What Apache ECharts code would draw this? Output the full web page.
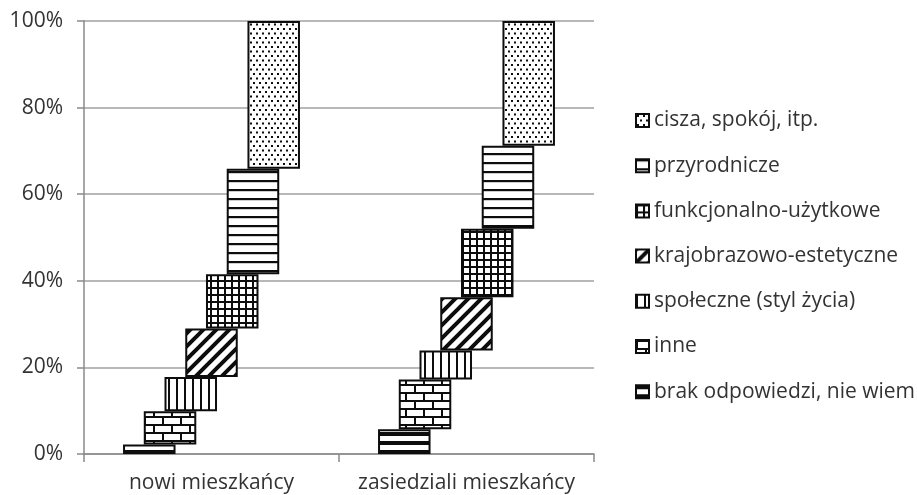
<!DOCTYPE html>
<html>
<head>
<meta charset="utf-8">
<script src="https://cdn.jsdelivr.net/npm/echarts@6/dist/echarts.min.js"></script>
<style>
html,body{margin:0;padding:0;background:#fff;}
#c{width:917px;height:495px;}
</style>
</head>
<body>
<div id="c"></div>
<script>
const categories = ['nowi mieszkańcy', 'zasiedziali mieszkańcy'];
const seriesNames = ['brak odpowiedzi, nie wiem', 'inne', 'społeczne (styl życia)', 'krajobrazowo-estetyczne', 'funkcjonalno-użytkowe', 'przyrodnicze', 'cisza, spokój, itp.'];
const brak = [2.2, 5.7];
const inne = [7.7, 11.5];
const spoleczne = [7.9, 6.7];
const krajobrazowo = [11.2, 12.3];
const funkcjonalno = [12.5, 15.8];
const przyrodnicze = [24.4, 19.2];
const cisza = [34.1, 28.8];
const legendOrder = ['cisza, spokój, itp.', 'przyrodnicze', 'funkcjonalno-użytkowe', 'krajobrazowo-estetyczne', 'społeczne (styl życia)', 'inne', 'brak odpowiedzi, nie wiem'];
const yTickLabels = ['0%', '20%', '40%', '60%', '80%', '100%'];

const values = [brak, inne, spoleczne, krajobrazowo, funkcjonalno, przyrodnicze, cisza];

function tile(w, h, draw) {
  const c = document.createElement('canvas');
  c.width = w; c.height = h;
  const ctx = c.getContext('2d');
  ctx.fillStyle = '#fff';
  ctx.fillRect(0, 0, w, h);
  ctx.fillStyle = '#0d0d0d';
  ctx.strokeStyle = '#0d0d0d';
  draw(ctx);
  return { image: c, repeat: 'repeat' };
}

const patterns = [
  // brak: thick horizontal bands
  tile(4, 9, ctx => { ctx.fillRect(0, 0, 4, 4); }),
  // inne: bricks
  tile(18, 16, ctx => {
    ctx.fillRect(0, 0, 18, 2); ctx.fillRect(0, 8, 18, 2);
    ctx.fillRect(0, 0, 2, 8); ctx.fillRect(9, 8, 2, 8);
  }),
  // spoleczne: vertical lines
  tile(8, 8, ctx => { ctx.fillRect(0, 0, 2, 8); }),
  // krajobrazowo: thick diagonal stripes
  tile(13, 13, ctx => {
    ctx.lineWidth = 4;
    ctx.beginPath();
    ctx.moveTo(-2, 15); ctx.lineTo(15, -2);
    ctx.moveTo(-8, 8); ctx.lineTo(8, -8);
    ctx.moveTo(5, 21); ctx.lineTo(21, 5);
    ctx.stroke();
  }),
  // funkcjonalno: grid
  tile(7, 7, ctx => { ctx.fillRect(0, 0, 7, 2); ctx.fillRect(0, 0, 2, 7); }),
  // przyrodnicze: horizontal lines
  tile(6, 9, ctx => { ctx.fillRect(0, 0, 6, 2.2); }),
  // cisza: dots
  tile(6, 9, ctx => { ctx.fillRect(1, 1, 2, 2); ctx.fillRect(4, 5.5, 2, 2); })
];

const series = [];
values.forEach((vals, i) => {
  const base = categories.map((_, j) => {
    let s = 0;
    for (let k = 0; k < i; k++) s += values[k][j];
    return s;
  });
  series.push({
    name: 'base' + i,
    type: 'bar',
    stack: 's' + i,
    data: base,
    silent: true,
    barWidth: 52.5,
    barGap: '-60.5%',
    itemStyle: { color: 'transparent', borderWidth: 0 },
    emphasis: { disabled: true }
  });
  series.push({
    name: seriesNames[i],
    type: 'bar',
    stack: 's' + i,
    data: vals,
    barWidth: 52.5,
    barGap: '-60.5%',
    itemStyle: { color: patterns[i], borderColor: '#0d0d0d', borderWidth: 2 },
    emphasis: { disabled: true }
  });
});

const chart = echarts.init(document.getElementById('c'), null, { renderer: 'canvas' });
chart.setOption({
  animation: false,
  textStyle: { fontFamily: 'Open Sans' },
  grid: { left: 84, right: 323, top: 21, bottom: 41, containLabel: false },
  legend: {
    data: legendOrder,
    orient: 'vertical',
    left: 635,
    top: 110,
    padding: 0,
    itemWidth: 13,
    itemHeight: 13,
    itemGap: 24.2,
    icon: 'rect',
    textStyle: { fontSize: 21, color: '#333', fontFamily: 'Open Sans' },
    selectedMode: false
  },
  xAxis: {
    type: 'category',
    data: categories,
    axisLine: { lineStyle: { color: '#8a8a8a', width: 1.5 } },
    axisTick: { show: true, length: 8, lineStyle: { color: '#8a8a8a', width: 1.5 } },
    axisLabel: { interval: 0, fontSize: 21, color: '#333', margin: 19, fontFamily: 'Open Sans' },
    splitLine: { show: false }
  },
  yAxis: {
    type: 'value',
    min: 0, max: 100, interval: 20,
    axisLine: { show: true, lineStyle: { color: '#8a8a8a', width: 1.5 } },
    axisTick: { show: true, length: 7, lineStyle: { color: '#8a8a8a', width: 1.5 } },
    axisLabel: {
      fontSize: 21, color: '#333', margin: 21, fontFamily: 'Open Sans',
      formatter: v => yTickLabels[Math.round(v / 20)]
    },
    splitLine: { lineStyle: { color: '#a0a0a0', width: 1.5 } }
  },
  series: series
});
</script>
</body>
</html>
